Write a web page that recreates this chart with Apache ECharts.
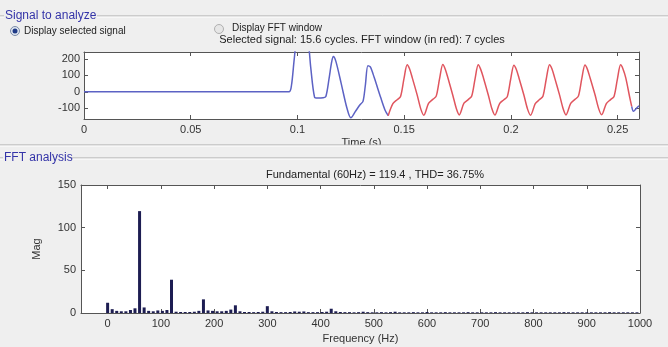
<!DOCTYPE html>
<html>
<head>
<meta charset="utf-8">
<script src="https://cdn.jsdelivr.net/npm/echarts@6/dist/echarts.min.js"></script>
<style>
  html, body { margin: 0; padding: 0; background: #efefef; }
  #chart { width: 668px; height: 347px; }
</style>
</head>
<body>
<div id="chart"></div>
<script>
// selected signal, part before the FFT window (blue)
const blueTime = [0, 0.0960, 0.0972, 0.0985, 0.0995, 0.1030, 0.1050, 0.1062, 0.1080, 0.1095,
  0.1120, 0.1133, 0.1148, 0.1160, 0.1168, 0.1180, 0.1205, 0.1232, 0.1250, 0.1272,
  0.1293, 0.1307, 0.1318, 0.1330, 0.1342, 0.1360, 0.1390, 0.1410, 0.1425];
const blueValue = [0, 0, 40, 200, 290, 360, 300, 150, -32, -38,
  -36, -28, 80, 180, 215, 185, 50, -100, -158, -118,
  -78, -58, 40, 158, 150, 85, -35, -110, -145];

// FFT window, 7 cycles (red)
const redTime = [
  0.1425, 0.1447, 0.1467, 0.1483, 0.1499, 0.1514, 0.1525, 0.1538, 0.1561, 0.1578,
  0.1592, 0.1614, 0.1634, 0.1650, 0.1666, 0.1681, 0.1692, 0.1705, 0.1728, 0.1745,
  0.1758, 0.1780, 0.1800, 0.1816, 0.1832, 0.1847, 0.1858, 0.1871, 0.1894, 0.1911,
  0.1925, 0.1947, 0.1967, 0.1983, 0.1999, 0.2014, 0.2025, 0.2038, 0.2061, 0.2078,
  0.2092, 0.2114, 0.2134, 0.2150, 0.2166, 0.2181, 0.2192, 0.2205, 0.2228, 0.2245,
  0.2258, 0.2280, 0.2300, 0.2316, 0.2332, 0.2347, 0.2358, 0.2371, 0.2394, 0.2411,
  0.2425, 0.2447, 0.2467, 0.2483, 0.2499, 0.2514, 0.2525, 0.2538, 0.2556, 0.2566];
const redValue = [
  -145, -72, -48, -28, 80, 165, 140, 85, -20, -105,
  -142, -70, -46, -26, 82, 166, 139, 84, -22, -104,
  -140, -69, -47, -27, 79, 164, 138, 86, -19, -103,
  -141, -71, -48, -29, 78, 162, 137, 83, -21, -105,
  -142, -72, -47, -27, 81, 165, 140, 85, -20, -104,
  -140, -70, -46, -26, 80, 163, 138, 84, -18, -102,
  -139, -71, -47, -28, 79, 164, 139, 85, -30, -90];

// tail of the selected signal after the window (blue)
const tailTime = [0.2566, 0.2574, 0.2588, 0.2600];
const tailValue = [-90, -118, -100, -85];

const timeTicks = [0, 0.05, 0.1, 0.15, 0.2, 0.25];
const signalTicks = [-100, 0, 100, 200];

// FFT bins (Hz) and magnitudes
const freqHz = [
  0, 8.6, 17.1, 25.7, 34.3, 42.9, 51.4, 60, 68.6, 77.1,
  85.7, 94.3, 102.9, 111.4, 120, 128.6, 137.1, 145.7, 154.3, 162.9,
  171.4, 180, 188.6, 197.1, 205.7, 214.3, 222.9, 231.4, 240, 248.6,
  257.1, 265.7, 274.3, 282.9, 291.4, 300, 308.6, 317.1, 325.7, 334.3,
  342.9, 351.4, 360, 368.6, 377.1, 385.7, 394.3, 402.9, 411.4, 420,
  428.6, 437.1, 445.7, 454.3, 462.9, 471.4, 480, 488.6, 497.1, 505.7,
  514.3, 522.9, 531.4, 540, 548.6, 557.1, 565.7, 574.3, 582.9, 591.4,
  600, 608.6, 617.1, 625.7, 634.3, 642.9, 651.4, 660, 668.6, 677.1,
  685.7, 694.3, 702.9, 711.4, 720, 728.6, 737.1, 745.7, 754.3, 762.9,
  771.4, 780, 788.6, 797.1, 805.7, 814.3, 822.9, 831.4, 840, 848.6,
  857.1, 865.7, 874.3, 882.9, 891.4, 900, 908.6, 917.1, 925.7, 934.3,
  942.9, 951.4, 960, 968.6, 977.1, 985.7, 994.3];
const magnitude = [
  12, 4.5, 2.5, 2, 2, 3.5, 5.5, 119.4, 6.5, 2.5,
  2, 3, 2.5, 3.5, 39, 1.5, 1.2, 1.2, 1.2, 1.5,
  2.5, 16, 3, 2.5, 2, 2, 2.5, 4, 9, 2,
  1.2, 1.2, 1, 1.2, 1.5, 8, 2, 1.2, 1, 1,
  1.2, 1.8, 1.5, 1.8, 1, 1, 1, 1.2, 1.5, 5,
  2, 1.2, 1, 1, 0.8, 1, 1.5, 1, 0.8, 0.8,
  1, 0.8, 1, 1.5, 0.8, 0.8, 0.8, 1, 0.8, 0.8,
  1.2, 0.8, 0.8, 0.8, 1, 0.8, 0.8, 0.8, 0.8, 1,
  0.8, 0.8, 0.8, 0.8, 0.8, 1, 0.8, 0.8, 0.8, 0.8,
  0.8, 0.8, 1, 0.8, 0.8, 0.8, 0.8, 0.8, 0.8, 0.8,
  1, 0.8, 0.8, 0.8, 0.8, 0.8, 0.8, 0.8, 0.8, 0.8,
  1, 0.8, 0.8, 0.8, 0.8, 0.8, 0.8];
const freqTicks = [0, 100, 200, 300, 400, 500, 600, 700, 800, 900, 1000];
const magTicks = [0, 50, 100, 150];

const FONT = '"Liberation Sans", Arial, sans-serif';
const AXIS_COLOR = '#555';

function pairs(xs, ys) {
  return xs.map((x, i) => [x, ys[i]]);
}

function frameAxis(extra) {
  return Object.assign({
    type: 'value',
    axisLine: { show: true, onZero: false, lineStyle: { color: AXIS_COLOR, width: 1 } },
    axisTick: { show: true, inside: true, length: 4, lineStyle: { color: AXIS_COLOR } },
    axisLabel: { show: false },
    splitLine: { show: false },
  }, extra);
}

function ticks(values) {
  return { show: true, inside: true, length: 4, customValues: values, lineStyle: { color: AXIS_COLOR } };
}

function tickLabels(values, margin) {
  return {
    show: true,
    customValues: values,
    formatter: (v) => String(v),
    color: '#333',
    fontSize: 11,
    fontFamily: FONT,
    margin: margin,
  };
}

function etched(x1, y, x2) {
  return [
    { type: 'line', shape: { x1: x1, y1: y, x2: x2, y2: y }, style: { stroke: '#a8a8a8', lineWidth: 1 }, z: 100 },
    { type: 'line', shape: { x1: x1, y1: y + 1, x2: x2, y2: y + 1 }, style: { stroke: '#ffffff', lineWidth: 1 }, z: 100 },
  ];
}

function label(text, x, y, opts) {
  return {
    type: 'text', x: x, y: y, z: 101,
    style: Object.assign({ text: text, font: '11px ' + FONT, fill: '#222', textVerticalAlign: 'middle' }, opts || {}),
  };
}

const chart = echarts.init(document.getElementById('chart'));

chart.setOption({
  animation: false,
  backgroundColor: '#efefef',
  title: [
    {
      text: 'Selected signal: 15.6 cycles. FFT window (in red): 7 cycles',
      left: 362, top: 34, padding: 0, textAlign: 'center',
      textStyle: { fontSize: 11, fontWeight: 'normal', color: '#222', fontFamily: FONT },
    },
    {
      text: 'Fundamental (60Hz) = 119.4 , THD= 36.75%',
      left: 375, top: 169, padding: 0, textAlign: 'center',
      textStyle: { fontSize: 11, fontWeight: 'normal', color: '#222', fontFamily: FONT },
    },
  ],
  grid: [
    { left: 84, top: 52, width: 555, height: 67, show: true, backgroundColor: '#fff', borderWidth: 0 },
    { left: 81, top: 185, width: 559, height: 128, show: true, backgroundColor: '#fff', borderWidth: 0 },
  ],
  xAxis: [
    frameAxis({
      gridIndex: 0, min: 0, max: 0.26, position: 'bottom',
      axisTick: ticks(timeTicks),
      axisLabel: tickLabels(timeTicks, 5),
      name: 'Time (s)', nameLocation: 'middle', nameGap: 18,
      nameTextStyle: { fontSize: 11, color: '#333', fontFamily: FONT },
    }),
    frameAxis({ gridIndex: 0, min: 0, max: 0.26, position: 'top', axisTick: ticks(timeTicks) }),
    frameAxis({
      gridIndex: 1, min: -50, max: 1000, position: 'bottom',
      axisTick: ticks(freqTicks),
      axisLabel: tickLabels(freqTicks, 5),
      name: 'Frequency (Hz)', nameLocation: 'middle', nameGap: 20,
      nameTextStyle: { fontSize: 11, color: '#333', fontFamily: FONT },
    }),
    frameAxis({ gridIndex: 1, min: -50, max: 1000, position: 'top', axisTick: ticks(freqTicks) }),
  ],
  yAxis: [
    frameAxis({
      gridIndex: 0, min: -165, max: 242, position: 'left',
      axisTick: ticks(signalTicks),
      axisLabel: tickLabels(signalTicks, 4),
    }),
    frameAxis({ gridIndex: 0, min: -165, max: 242, position: 'right', axisTick: ticks(signalTicks) }),
    frameAxis({
      gridIndex: 1, min: 0, max: 150, interval: 50, position: 'left',
      axisTick: ticks(magTicks),
      axisLabel: tickLabels(magTicks, 5),
      name: 'Mag', nameLocation: 'middle', nameGap: 39, nameRotate: 90,
      nameTextStyle: { fontSize: 11, color: '#333', fontFamily: FONT },
    }),
    frameAxis({ gridIndex: 1, min: 0, max: 150, interval: 50, position: 'right', axisTick: ticks(magTicks) }),
  ],
  series: [
    {
      type: 'line', xAxisIndex: 0, yAxisIndex: 0, data: pairs(blueTime, blueValue),
      showSymbol: false, smooth: 0.3, lineStyle: { color: '#5c62c4', width: 1.5 }, clip: true,
    },
    {
      type: 'line', xAxisIndex: 0, yAxisIndex: 0, data: pairs(redTime, redValue),
      showSymbol: false, smooth: 0.3, lineStyle: { color: '#e0555e', width: 1.5 }, clip: true,
    },
    {
      type: 'line', xAxisIndex: 0, yAxisIndex: 0, data: pairs(tailTime, tailValue),
      showSymbol: false, smooth: 0.3, lineStyle: { color: '#5c62c4', width: 1.5 }, clip: true,
    },
    {
      type: 'bar', xAxisIndex: 2, yAxisIndex: 2, data: pairs(freqHz, magnitude),
      barWidth: 3, itemStyle: { color: '#1d1d52' },
    },
  ],
  graphic: [
    // cover the lower half of "Time (s)" like the group box edge does
    { type: 'rect', shape: { x: 0, y: 145, width: 668, height: 6 }, style: { fill: '#efefef' }, z: 99 },
    ...etched(0, 16, 4),
    ...etched(97, 16, 668),
    ...etched(0, 145, 668),
    ...etched(0, 158, 3),
    ...etched(70, 158, 668),
    label('Signal to analyze', 5, 16, { fill: '#3434a8', font: '12px ' + FONT }),
    label('FFT analysis', 4, 158, { fill: '#3434a8', font: '12px ' + FONT }),
    { type: 'circle', shape: { cx: 15, cy: 31, r: 4.5 }, style: { fill: '#dfe6f0', stroke: '#7a8aa8', lineWidth: 1 }, z: 101 },
    { type: 'circle', shape: { cx: 15, cy: 31, r: 2.5 }, style: { fill: '#1f3a86' }, z: 102 },
    label('Display selected signal', 24, 31, { font: '10px ' + FONT }),
    { type: 'circle', shape: { cx: 219, cy: 29, r: 4.5 }, style: { fill: '#e6e6e6', stroke: '#b0b0b0', lineWidth: 1 }, z: 101 },
    label('Display FFT window', 232, 28, { font: '10px ' + FONT }),
  ],
});
</script>
</body>
</html>
